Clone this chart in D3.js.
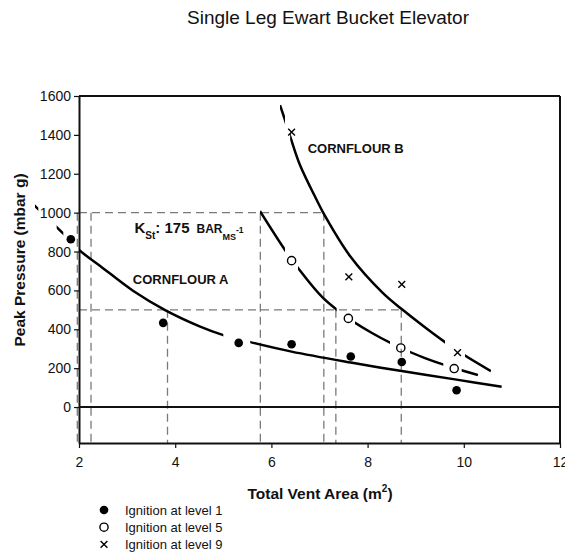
<!DOCTYPE html>
<html>
<head>
<meta charset="utf-8">
<script src="https://cdn.jsdelivr.net/npm/d3@7"></script>
<style>
  html, body { margin: 0; padding: 0; background: #fff; }
  svg { display: block; font-family: "Liberation Sans", Arial, Helvetica, sans-serif; }
</style>
</head>
<body>
<svg id="chart" width="565" height="554"></svg>
<script>
// ---- data -------------------------------------------------------------
const xTicks = [2, 4, 6, 8, 10, 12];
const yTicks = [0, 200, 400, 600, 800, 1000, 1200, 1400, 1600];

// measured peak pressures [vent area m², mbar g]
const ignitionLevel1 = [[1.83, 863], [3.75, 433], [5.32, 330], [6.42, 323], [7.65, 260], [8.71, 232], [9.85, 86]];
const ignitionLevel5 = [[6.42, 753], [7.60, 456], [8.69, 304], [9.80, 198]];
const ignitionLevel9 = [[6.42, 1414], [7.61, 670], [8.71, 631], [9.87, 280]];

// fitted design curves [vent area, pressure]
const cornflourA = [[1.06, 1040], [1.67, 893], [2.0, 808], [2.44, 726], [3.13, 597], [3.79, 499], [4.52, 414],
                    [5.0, 370], [5.56, 334], [6.42, 285], [7.65, 229], [8.71, 185], [9.85, 141], [10.79, 104]];
const cornflourLevel5 = [[5.763, 1008], [6.283, 808], [6.553, 715], [7.073, 561], [7.593, 458], [8.091, 381],
                         [8.674, 306], [9.193, 252], [9.796, 201], [10.295, 165]];
const cornflourB = [[6.179, 1553], [6.283, 1476], [6.407, 1379], [6.594, 1245], [6.942, 1065], [7.114, 983],
                    [7.634, 777], [8.32, 586], [8.709, 504], [9.198, 409], [9.609, 334], [10.025, 265], [10.565, 185]];

// vent-area ranges along which each curve is drawn (breaks around markers)
const cornflourASpans = [[1.085, 1.154], [1.536, 1.674], [2.0, 5.0], [5.56, 10.79]];
const cornflourLevel5Spans = [[5.763, 6.283], [6.553, 7.357], [7.738, 8.466], [8.882, 9.574], [9.956, 10.295]];
const cornflourBSpans = [[6.179, 6.283], [6.39, 9.609], [10.025, 10.565]];

// K_St read-off guides
const guidePressures = [1000, 500];
const guideHorizontalEnds = [7.09, 8.70];
const guideVerticals = [[1.965, 2.25, 5.77, 7.09], [3.84, 7.34, 8.70]];

const legendLabels = ["Ignition at level 1", "Ignition at level 5", "Ignition at level 9"];

// ---- layout ----------------------------------------------------------
const svg = d3.select("#chart");
const x = d3.scaleLinear().domain([2, 12]).range([79, 560]);
const y = d3.scaleLinear().domain([-185, 1600]).range([443, 96]);
const yBottom = y.domain()[0];

const defs = svg.append("defs");

// title
svg.append("text")
  .attr("x", 328).attr("y", 23.5)
  .attr("text-anchor", "middle")
  .attr("font-size", 19)
  .attr("fill", "#111")
  .text("Single Leg Ewart Bucket Elevator");

// guides
const guideColor = "#7a7a7a";
const guides = svg.append("g").attr("stroke", guideColor).attr("stroke-width", 1.3)
  .attr("stroke-dasharray", "8,5").attr("fill", "none");
guidePressures.forEach((p, i) => {
  guides.append("line")
    .attr("x1", x(2)).attr("x2", x(guideHorizontalEnds[i]))
    .attr("y1", y(p)).attr("y2", y(p));
  guideVerticals[i].forEach(v => {
    guides.append("line")
      .attr("x1", x(v)).attr("x2", x(v))
      .attr("y1", y(p)).attr("y2", y(yBottom));
  });
});

// frame, zero line
const frame = svg.append("g").attr("stroke", "#111").attr("stroke-width", 2).attr("fill", "none");
frame.append("line").attr("x1", x(2)).attr("x2", x(12)).attr("y1", y(1600)).attr("y2", y(1600));
frame.append("line").attr("x1", x(12)).attr("x2", x(12)).attr("y1", y(1600)).attr("y2", y(yBottom));
frame.append("line").attr("x1", x(2)).attr("x2", x(12)).attr("y1", y(0)).attr("y2", y(0));

// axes
const yAxis = svg.append("g")
  .attr("transform", `translate(${x(2)},0)`)
  .call(d3.axisLeft(y).tickValues(yTicks).tickFormat(d3.format("d"))
    .tickSize(5).tickSizeOuter(0).tickPadding(3));
const xAxis = svg.append("g")
  .attr("transform", `translate(0,${y(yBottom)})`)
  .call(d3.axisBottom(x).tickValues(xTicks).tickFormat(d3.format("d"))
    .tickSize(5).tickSizeOuter(0).tickPadding(9));
[yAxis, xAxis].forEach(g => {
  g.select(".domain").attr("stroke", "#111").attr("stroke-width", 2);
  g.selectAll(".tick line").attr("stroke", "#111").attr("stroke-width", 1.2);
  g.selectAll(".tick text").attr("font-size", 14).attr("fill", "#111")
    .attr("font-family", "'Liberation Sans', Arial, sans-serif");
});

// axis titles
svg.append("text")
  .attr("transform", `translate(25,260) rotate(-90)`)
  .attr("text-anchor", "middle")
  .attr("font-size", 15.5).attr("font-weight", "bold").attr("fill", "#111")
  .text("Peak Pressure (mbar g)");

const xTitle = svg.append("text")
  .attr("x", 320).attr("y", 498.5)
  .attr("text-anchor", "middle")
  .attr("font-size", 15.5).attr("font-weight", "bold").attr("fill", "#111");
xTitle.append("tspan").text("Total Vent Area (m");
xTitle.append("tspan").attr("font-size", 10).attr("dy", -7).text("2");
xTitle.append("tspan").attr("dy", 7).text(")");

// curves, drawn piecewise through clipped spans
const line = d3.line().x(d => x(d[0])).y(d => y(d[1])).curve(d3.curveCatmullRom.alpha(0.5));
let clipId = 0;
function drawCurve(points, spans) {
  spans.forEach(([a, b]) => {
    const id = "span" + (clipId++);
    defs.append("clipPath").attr("id", id)
      .append("rect")
      .attr("x", x(a)).attr("width", x(b) - x(a))
      .attr("y", 0).attr("height", 554);
    svg.append("path")
      .datum(points)
      .attr("d", line)
      .attr("clip-path", `url(#${id})`)
      .attr("fill", "none")
      .attr("stroke", "#000")
      .attr("stroke-width", 2.5);
  });
}
drawCurve(cornflourA, cornflourASpans);
drawCurve(cornflourLevel5, cornflourLevel5Spans);
drawCurve(cornflourB, cornflourBSpans);

// markers
function filledMarker(g, cx, cy) {
  g.append("circle").attr("cx", cx).attr("cy", cy).attr("r", 4.3).attr("fill", "#000");
}
function openMarker(g, cx, cy) {
  g.append("circle").attr("cx", cx).attr("cy", cy).attr("r", 4.1)
    .attr("fill", "none").attr("stroke", "#000").attr("stroke-width", 1.4);
}
function crossMarker(g, cx, cy) {
  const s = 3.4;
  g.append("path")
    .attr("d", `M${cx - s},${cy - s}L${cx + s},${cy + s}M${cx - s},${cy + s}L${cx + s},${cy - s}`)
    .attr("stroke", "#000").attr("stroke-width", 1.4).attr("fill", "none");
}
const marks = svg.append("g");
ignitionLevel1.forEach(d => filledMarker(marks, x(d[0]), y(d[1])));
ignitionLevel5.forEach(d => openMarker(marks, x(d[0]), y(d[1])));
ignitionLevel9.forEach(d => crossMarker(marks, x(d[0]), y(d[1])));

// annotations
svg.append("text")
  .attr("x", x(3.12)).attr("y", y(633))
  .attr("font-size", 13).attr("font-weight", "bold").attr("fill", "#111")
  .text("CORNFLOUR A");
svg.append("text")
  .attr("x", x(6.4) + 17).attr("y", y(1307))
  .attr("font-size", 13).attr("font-weight", "bold").attr("fill", "#111")
  .text("CORNFLOUR B");

const kst = svg.append("text")
  .attr("x", 134.5).attr("y", 232.7)
  .attr("font-weight", "bold").attr("fill", "#111");
kst.append("tspan").attr("font-size", 15).text("K");
kst.append("tspan").attr("font-size", 10).attr("dy", 6.5).text("St");
kst.append("tspan").attr("font-size", 15).attr("dy", -6.5).text(": 175");
kst.append("tspan").attr("font-size", 12).attr("x", 196.5).text("BAR");
kst.append("tspan").attr("font-size", 9).attr("dy", 7).text("MS");
kst.append("tspan").attr("font-size", 8.5).attr("dy", -6.5).text("-1");

// legend
const legend = svg.append("g");
const legendMarkers = [filledMarker, openMarker, crossMarker];
legendLabels.forEach((label, i) => {
  const cy = 510 + i * 17.2;
  legendMarkers[i](legend, 104, cy);
  legend.append("text")
    .attr("x", 125).attr("y", cy + 4.5)
    .attr("font-size", 13).attr("fill", "#111")
    .text(label);
});
</script>
</body>
</html>
